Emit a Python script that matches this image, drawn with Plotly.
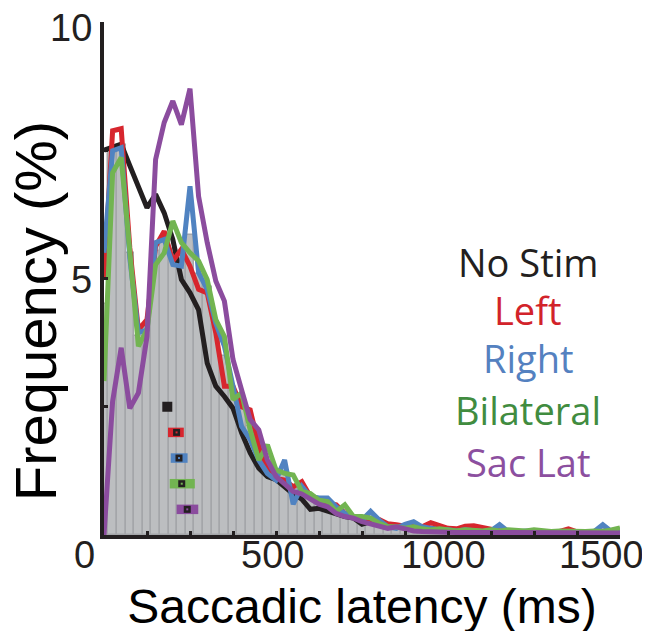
import plotly.graph_objects as go

# latency bins (ms), 25 ms steps
latency = list(range(0, 1525, 25))

no_stim = [7.5, 7.55, 7.62, 7.2, 6.77, 6.38, 6.64, 6.28, 5.76, 4.98, 4.72, 4.39, 3.35, 2.9, 2.7,
           2.47, 1.99, 1.6, 1.3, 1.14, 1.08, 0.94, 0.8, 0.7, 0.5, 0.52, 0.46, 0.42, 0.36, 0.33,
           0.21, 0.26, 0.26, 0.2, 0.18, 0.15, 0.12, 0.1, 0.12, 0.1, 0.08, 0.07, 0.06, 0.08, 0.06,
           0.05, 0.06, 0.05, 0.07, 0.05, 0.06, 0.05, 0.04, 0.05, 0.04, 0.05, 0.04, 0.05, 0.04, 0.05, 0.05]
left = [5.0, 7.88, 7.92, 5.6, 4.0, 4.2, 5.63, 5.92, 5.34, 5.57, 5.24, 4.79, 4.72, 3.94, 2.9,
        2.9, 2.5, 2.44, 1.73, 1.27, 1.1, 1.07, 0.94, 1.04, 0.75, 0.68, 0.62, 0.59, 0.42, 0.36,
        0.33, 0.29, 0.3, 0.22, 0.2, 0.17, 0.2, 0.16, 0.24, 0.18, 0.13, 0.12, 0.17, 0.18, 0.14,
        0.1, 0.08, 0.07, 0.06, 0.07, 0.06, 0.07, 0.06, 0.07, 0.12, 0.06, 0.05, 0.06, 0.05, 0.06, 0.05]
right = [5.5, 7.49, 7.55, 5.4, 3.94, 4.0, 5.7, 5.76, 5.27, 5.24, 6.8, 5.11, 4.79, 4.13, 3.68,
         2.86, 2.12, 1.86, 1.46, 1.2, 1.07, 1.46, 0.6, 0.95, 0.75, 0.72, 0.72, 0.55, 0.42, 0.36,
         0.29, 0.46, 0.29, 0.16, 0.13, 0.21, 0.26, 0.16, 0.12, 0.1, 0.1, 0.08, 0.1, 0.08, 0.07,
         0.08, 0.2, 0.07, 0.06, 0.08, 0.07, 0.06, 0.05, 0.06, 0.05, 0.05, 0.06, 0.07, 0.2, 0.07, 0.1]
bilateral = [3.0, 7.06, 7.36, 5.5, 3.68, 4.0, 5.27, 5.5, 6.12, 5.7, 5.5, 5.34, 4.98, 4.2, 3.87,
             2.64, 2.77, 2.05, 1.46, 1.76, 1.27, 1.2, 1.17, 0.85, 0.81, 0.68, 0.65, 0.46, 0.59, 0.36,
             0.36, 0.33, 0.23, 0.16, 0.16, 0.13, 0.16, 0.12, 0.1, 0.12, 0.1, 0.08, 0.1, 0.09, 0.08,
             0.1, 0.08, 0.1, 0.09, 0.08, 0.1, 0.08, 0.07, 0.08, 0.07, 0.06, 0.07, 0.08, 0.07, 0.1, 0.14]
sac_lat = [0.0, 2.6, 3.65, 2.47, 2.77, 3.87, 7.32, 8.04, 8.46, 8.0, 8.7, 6.6, 5.7, 4.95, 4.56,
           3.42, 2.83, 2.25, 2.05, 1.46, 1.14, 1.0, 0.85, 0.8, 0.7, 0.6, 0.55, 0.42, 0.36, 0.33,
           0.26, 0.21, 0.16, 0.13, 0.16, 0.12, 0.08, 0.07, 0.06, 0.06, 0.05, 0.05, 0.05, 0.05, 0.05,
           0.05, 0.04, 0.05, 0.04, 0.05, 0.04, 0.04, 0.05, 0.04, 0.04, 0.05, 0.04, 0.04, 0.05, 0.04, 0.04]
# grey histogram bar heights
pooled = [4.5, 7.48, 7.61, 5.5, 3.87, 4.07, 5.53, 5.73, 5.58, 5.5, 5.85, 5.08, 4.83, 4.09, 3.48,
          2.8, 2.46, 2.12, 1.55, 1.41, 1.15, 1.24, 0.9, 0.95, 0.77, 0.69, 0.66, 0.53, 0.48, 0.36,
          0.33, 0.36, 0.27, 0.18, 0.16, 0.17, 0.21, 0.15, 0.15, 0.13, 0.11, 0.09, 0.12, 0.12, 0.1,
          0.09, 0.12, 0.08, 0.07, 0.08, 0.08, 0.07, 0.06, 0.07, 0.08, 0.06, 0.06, 0.07, 0.11, 0.08, 0.1]

conditions = ['No Stim', 'Left', 'Right', 'Bilateral', 'Sac Lat']
line_colors = ['#231f20', '#d7262e', '#5083c1', '#72b451', '#8b4c9e']
text_colors = ['#231f20', '#d2232a', '#5481c0', '#418c3f', '#8c4f9f']
series = [no_stim, left, right, bilateral, sac_lat]

# median latency and confidence interval per condition (ms), drawn at the given height
medians = [184, 211, 218, 226, 242]
ci_low = [168, 186, 194, 191, 211]
ci_high = [199, 232, 243, 264, 274]
marker_level = [2.5, 2.0, 1.5, 1.0, 0.5]

xtick_vals = list(range(0, 1625, 125))
xlabel_vals = [0, 500, 1000, 1500]
ytick_vals = [0, 2.5, 5, 7.5, 10]
ylabel_vals = [5, 10]

dark = '#231f20'

fig = go.Figure()

fig.add_trace(go.Bar(x=latency, y=pooled, width=25,
                     marker=dict(color='#bcbec0', line=dict(color='#a4a6a9', width=1.5)),
                     hoverinfo='skip'))

for name, vals, col in zip(conditions, series, line_colors):
    fig.add_trace(go.Scatter(x=latency, y=vals, mode='lines', name=name,
                             line=dict(color=col, width=5)))

# CI bars + median squares
for i in range(len(conditions)):
    if i > 0:
        fig.add_trace(go.Scatter(x=[ci_low[i], ci_high[i]], y=[marker_level[i]] * 2,
                                 mode='lines', line=dict(color=line_colors[i], width=9.5)))
    fig.add_trace(go.Scatter(x=[medians[i]], y=[marker_level[i]], mode='markers',
                             marker=dict(symbol='square', color=dark, size=10 if i == 0 else 7,
                                         line=dict(width=0))))
    if i > 0:
        fig.add_trace(go.Scatter(x=[medians[i]], y=[marker_level[i]], mode='markers',
                                 marker=dict(symbol='square', color=line_colors[i], size=2,
                                             line=dict(width=0))))

# condition labels
label_y = [0.532, 0.438, 0.345, 0.243, 0.143]
for name, col, yy in zip(conditions, text_colors, label_y):
    fig.add_annotation(x=0.822, y=yy, xref='paper', yref='paper', text=name,
                       showarrow=False, xanchor='center', yanchor='middle',
                       font=dict(family='Liberation Sans' if False else 'Open Sans', size=38, color=col))

# tick labels, hand-placed like the original
label_shift = [-20, -4, -5, -19]
for v, s in zip(xlabel_vals, label_shift):
    fig.add_annotation(x=v, y=0, xref='x', yref='paper', text=str(v), showarrow=False,
                       xanchor='center', yanchor='top', xshift=s, yshift=3,
                       font=dict(family='Liberation Sans', size=38, color=dark))
ylabel_shift = [-1, -6]
for v, s in zip(ylabel_vals, ylabel_shift):
    fig.add_annotation(x=0, y=v, xref='paper', yref='y', text=str(v), showarrow=False,
                       xanchor='right', yanchor='middle', xshift=-10, yshift=s,
                       font=dict(family='Liberation Sans', size=38, color=dark))

# y title sits a little below the axis centre in the original
fig.add_annotation(x=-0.133, y=0.437, xref='paper', yref='paper', text='Frequency (%)',
                   textangle=-90, showarrow=False, xanchor='center', yanchor='middle',
                   font=dict(family='Liberation Sans', size=58, color='black'))

fig.update_xaxes(range=[0, 1500], tickvals=xtick_vals, ticktext=[''] * len(xtick_vals),
                 ticks='inside', ticklen=4, tickwidth=3, tickcolor=dark, automargin=False,
                 showline=True, linewidth=4, linecolor=dark, showgrid=False, zeroline=False,
                 title=dict(text='Saccadic latency (ms)', standoff=50,
                            font=dict(family='Liberation Sans', size=48, color='black')))
fig.update_yaxes(range=[0, 10], tickvals=ytick_vals, ticktext=[''] * len(ytick_vals),
                 ticks='inside', ticklen=4, tickwidth=3, tickcolor=dark, automargin=False,
                 showline=True, linewidth=4, linecolor=dark, showgrid=False, zeroline=False)

# page body adds an 8 px offset, so margins are set to land the axes where the original has them
fig.update_layout(width=650, height=631, showlegend=False, bargap=0,
                  plot_bgcolor='white', paper_bgcolor='white',
                  margin=dict(l=96, r=38, t=14, b=104))

fig.write_html("out.html")
